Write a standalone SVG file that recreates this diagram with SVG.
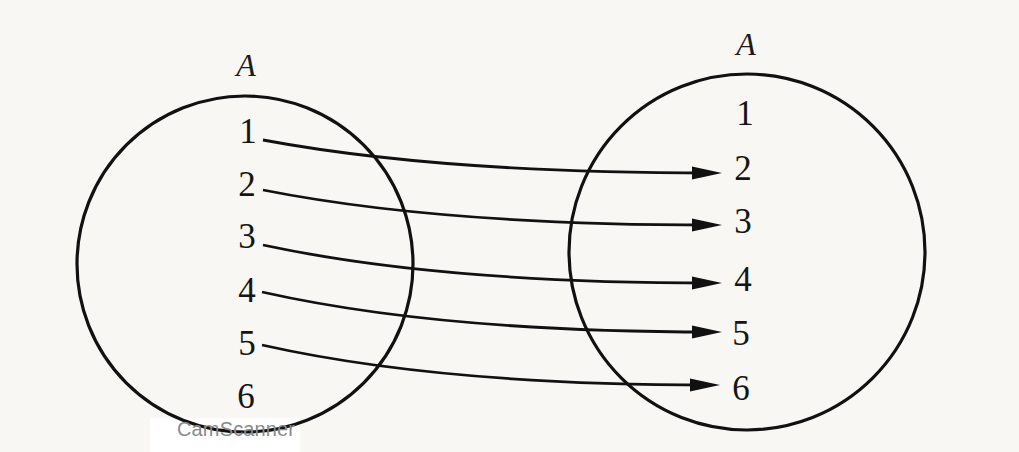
<svg xmlns="http://www.w3.org/2000/svg" width="1019" height="452" viewBox="0 0 1019 452">
<style>
.set{fill:none;stroke:#111;stroke-width:3.2}
.arr{fill:none;stroke:#111;stroke-width:2.8}
.num{font-family:"Liberation Serif",serif;font-size:35px;fill:#151515;text-anchor:middle}
.lbl{font-family:"Liberation Serif",serif;font-style:italic;font-size:32px;fill:#1a1a1a;text-anchor:middle}
.wm{font-family:"Liberation Sans",sans-serif;font-size:20px;fill:#8a8a8a}
</style>
<defs>
<marker id="ah" markerUnits="userSpaceOnUse" markerWidth="32" markerHeight="16" refX="20" refY="0" viewBox="0 -8 32 16" orient="auto">
<path d="M0,-6.5 L30,0 L0,6.5 Z" fill="#111"/>
</marker>
</defs>
<rect width="1019" height="452" fill="#f8f7f3"/>
<rect x="150" y="418" width="150" height="34" fill="#ffffff"/>
<g id="setLeft">
<circle class="set" cx="245" cy="264" r="168"/>
<text class="lbl" x="246" y="76">A</text>
<text class="num" x="248" y="143">1</text>
<text class="num" x="247" y="196">2</text>
<text class="num" x="247" y="248">3</text>
<text class="num" x="247" y="302">4</text>
<text class="num" x="247" y="355">5</text>
<text class="num" x="246" y="408">6</text>
</g>
<g id="setRight">
<circle class="set" cx="747" cy="252" r="178"/>
<text class="lbl" x="746" y="55">A</text>
<text class="num" x="745" y="125">1</text>
<text class="num" x="743" y="180">2</text>
<text class="num" x="743" y="233">3</text>
<text class="num" x="743" y="291">4</text>
<text class="num" x="741" y="345">5</text>
<text class="num" x="741" y="400">6</text>
</g>
<g id="connectors">
<path class="arr" marker-end="url(#ah)" d="M263,140 Q440,173 712,173"/>
<path class="arr" marker-end="url(#ah)" d="M263,190 Q440,225 712,225"/>
<path class="arr" marker-end="url(#ah)" d="M263,245 Q440,283 712,283"/>
<path class="arr" marker-end="url(#ah)" d="M262,292 Q440,332 712,332"/>
<path class="arr" marker-end="url(#ah)" d="M262,345 Q440,385 710,385"/>
</g>
<text class="wm" x="177" y="436" textLength="118">CamScanner</text>
</svg>
